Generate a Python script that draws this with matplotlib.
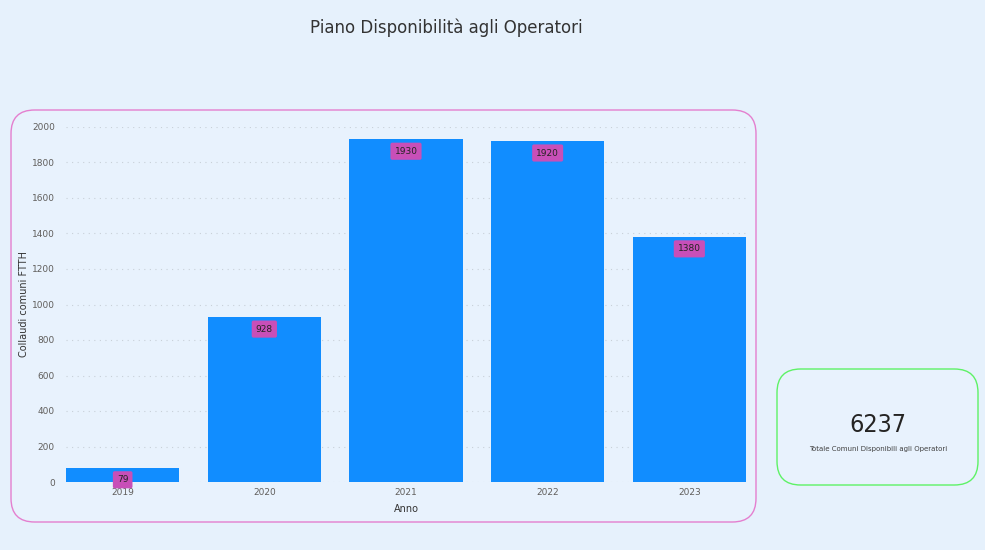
import matplotlib.pyplot as plt
from matplotlib.patches import FancyBboxPatch

anni = ['2019', '2020', '2021', '2022', '2023']
collaudi = [79, 928, 1930, 1920, 1380]
totale = 6237

bg = '#e6f1fc'
fig = plt.figure(figsize=(9.85, 5.5), dpi=100)
fig.patch.set_facecolor(bg)

# card del grafico
card = FancyBboxPatch((11 / 985, 1 - 522 / 550), 745 / 985, 412 / 550,
                      boxstyle='round,pad=0,rounding_size=0.024',
                      transform=fig.transFigure, facecolor='#e8f2fd',
                      edgecolor='#e47fcf', linewidth=1.0, mutation_aspect=985 / 550,
                      zorder=0)
fig.patches.append(card)

# card KPI
kpi = FancyBboxPatch((777 / 985, 1 - 485 / 550), 201 / 985, 116 / 550,
                     boxstyle='round,pad=0,rounding_size=0.024',
                     transform=fig.transFigure, facecolor='#e8f2fd',
                     edgecolor='#5ef266', linewidth=1.0, mutation_aspect=985 / 550,
                     zorder=0)
fig.patches.append(kpi)

fig.text(446 / 985, 1 - 28 / 550, 'Piano Disponibilità agli Operatori',
         ha='center', va='center', fontsize=12, color='#333333')

ax = fig.add_axes([66 / 985, 1 - 482 / 550, 680 / 985, 355 / 550])
ax.set_zorder(2)
ax.set_facecolor('none')
x = range(len(anni))
ax.bar(x, collaudi, width=0.8, color='#118dff', zorder=2)
ax.set_xlim(-0.4, 4.4)
ax.set_ylim(0, 2000)
ax.set_yticks(range(0, 2001, 200))
ax.set_xticks(list(x))
ax.set_xticklabels(anni)
ax.tick_params(length=0, labelsize=6.5, colors='#605e5c', pad=4)
ax.tick_params(axis='y', pad=8)
ax.grid(axis='y', linestyle=(0, (1, 4)), color='#c8d0d8', linewidth=0.8, zorder=0)
for s in ax.spines.values():
    s.set_visible(False)
ax.set_ylabel('Collaudi comuni FTTH', fontsize=7, color='#333333', labelpad=2)
ax.set_xlabel('Anno', fontsize=7, color='#333333', labelpad=5)

for i, v in enumerate(collaudi):
    ax.annotate(str(v), (i, v), xytext=(0, -8.5), textcoords='offset points',
                ha='center', va='center', fontsize=6.5, color='#252423', zorder=3,
                bbox=dict(boxstyle='round,pad=0.45,rounding_size=0.2',
                          facecolor='#c84fb8', edgecolor='none'))

fig.text(878 / 985, 1 - 425 / 550, str(totale), ha='center', va='center',
         fontsize=18, color='#252423', zorder=3, fontstretch='condensed')
fig.text(878 / 985, 1 - 449 / 550, 'Totale Comuni Disponibili agli Operatori',
         ha='center', va='center', fontsize=5, color='#404040', zorder=3)

fig.savefig('out.png', dpi=100, facecolor=bg)
